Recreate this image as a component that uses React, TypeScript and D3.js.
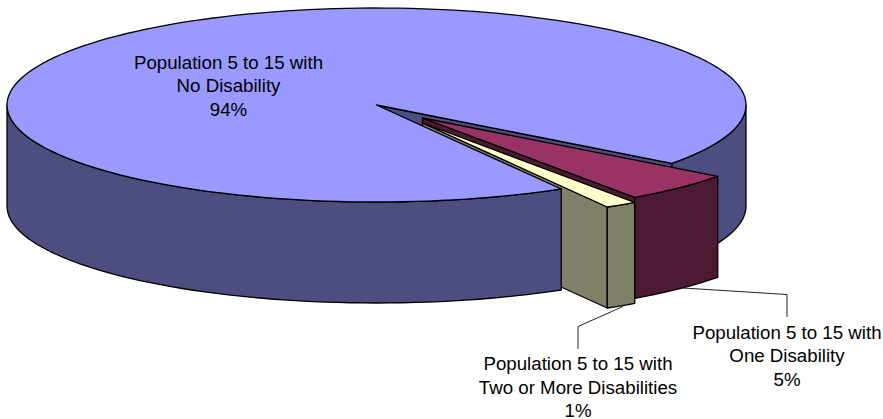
import React from "react";
import * as d3 from "d3";

const categoryLines = [
  ["Population 5 to 15 with", "No Disability"],
  ["Population 5 to 15 with", "One Disability"],
  ["Population 5 to 15 with", "Two or More Disabilities"],
];
const values = [93.6, 5.0, 1.4];

const topColors = ["#9999ff", "#993366", "#ffffcc"];
const wallColors = ["#4d4d80", "#4d1a33", "#808066"];

const width = 883;
const height = 419;
const depth = 101;
const deg = Math.PI / 180;

// ellipse of the tilted pie
const x = d3.scaleLinear().domain([-1, 1]).range([7, 746]);
const y = d3.scaleLinear().domain([-1, 1]).range([8, 202]);

// how far the two small slices are pulled out, in px
const explode = [
  [0, 0],
  [46, 13],
  [46, 18],
];

const slices = d3
  .pie<number>()
  .sort(null)
  .startAngle(150 * deg)
  .endAngle(510 * deg)(values);

type Pt = [number, number];

const rim = (a: number, i: number, r = 1, down = 0): Pt => [
  x(r * Math.sin(a)) + explode[i][0],
  y(-r * Math.cos(a)) + explode[i][1] + down,
];

const arcPts = (a0: number, a1: number, i: number, down = 0): Pt[] => {
  const n = Math.max(2, Math.ceil(Math.abs(a1 - a0) / (2 * deg)));
  return d3.range(n + 1).map((k) => rim(a0 + ((a1 - a0) * k) / n, i, 1, down));
};

const line = d3.line<Pt>();
const closed = (pts: Pt[]) => line(pts) + "Z";

const topPath = (i: number) =>
  closed([rim(0, i, 0), ...arcPts(slices[i].startAngle, slices[i].endAngle, i)]);

const wallPath = (a0: number, a1: number, i: number) =>
  closed([...arcPts(a0, a1, i), ...arcPts(a0, a1, i, depth).reverse()]);

// flat cut face along the radius at angle a
const facePath = (a: number, i: number) =>
  closed([rim(0, i, 0), rim(a, i), rim(a, i, 1, depth), rim(0, i, 0, depth)]);

const Shape = ({ d, fill }: { d: string; fill: string }) => (
  <path d={d} fill={fill} stroke="#000" strokeWidth={1.3} strokeLinejoin="round" />
);

const Label = ({ lines, cx, top }: { lines: string[]; cx: number; top: number }) => (
  <text
    textAnchor="middle"
    fontFamily="'Liberation Sans', Arial, sans-serif"
    fontSize={18.7}
    fill="#000"
  >
    {lines.map((t, k) => (
      <tspan key={k} x={cx} y={top + k * 23.6}>
        {t}
      </tspan>
    ))}
  </text>
);

const pct = (v: number) => `${Math.round(v)}%`;

export default function App() {
  const [main, one, two] = slices;
  const mainEnd = main.endAngle - 360 * deg;

  return (
    <svg
      width={width}
      height={height}
      style={{ position: "absolute", left: 0, top: 0, display: "block" }}
    >
      <rect width={width} height={height} fill="#fff" />

      {/* main pie, back parts */}
      <Shape d={wallPath(90 * deg, mainEnd, 0)} fill={wallColors[0]} />
      <Shape d={facePath(mainEnd, 0)} fill={wallColors[0]} />

      {/* side faces of the small slices run behind the main pie */}
      <Shape d={facePath(one.endAngle, 1)} fill={wallColors[1]} />
      <Shape d={facePath(two.endAngle, 2)} fill={wallColors[2]} />

      <Shape d={wallPath(main.startAngle, 270 * deg, 0)} fill={wallColors[0]} />
      <Shape d={topPath(0)} fill={topColors[0]} />

      {/* one disability */}
      <Shape d={wallPath(one.startAngle, one.endAngle, 1)} fill={wallColors[1]} />
      <Shape d={topPath(1)} fill={topColors[1]} />

      {/* two or more */}
      <Shape d={wallPath(two.startAngle, two.endAngle, 2)} fill={wallColors[2]} />
      <Shape d={topPath(2)} fill={topColors[2]} />

      {/* leader lines */}
      <path
        d={line([[683, 288], [787, 294.5], [787, 317]])!}
        fill="none"
        stroke="#222"
        strokeWidth={1}
      />
      <path
        d={line([[623, 306.5], [578, 326.5], [578, 349]])!}
        fill="none"
        stroke="#222"
        strokeWidth={1}
      />

      <Label lines={[...categoryLines[0], pct(values[0])]} cx={228.5} top={68.5} />
      <Label lines={[...categoryLines[1], pct(values[1])]} cx={787} top={338.5} />
      <Label lines={[...categoryLines[2], pct(values[2])]} cx={578} top={370} />
    </svg>
  );
}
